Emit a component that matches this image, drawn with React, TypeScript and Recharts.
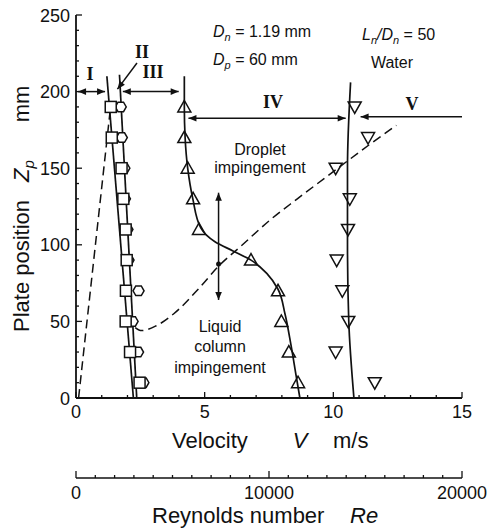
import React from 'react';
import { ComposedChart, XAxis, YAxis, Line, Scatter, ReferenceLine, ReferenceDot } from 'recharts';

// ---------- data ----------
const zLevels = [190, 170, 150, 130, 110, 90, 70, 50, 30, 10];
const squareV = [1.35, 1.39, 1.77, 1.84, 1.93, 1.97, 1.94, 1.93, 2.1, 2.47];
const hexV = [1.74, 1.78, 1.88, 1.9, 2.0, 2.04, 2.43, 2.2, 2.41, 2.62];
const triUpV = [4.21, 4.21, 4.34, 4.55, 4.78, 6.8, 7.85, 7.98, 8.27, 8.63];
const triDownV = [10.83, 11.35, 10.09, 10.64, 10.57, 10.13, 10.35, 10.58, 10.09, 11.61];

const lineSquareV = [2.23, 1.2];
const lineSquareZ = [0, 210];
const lineHexV = [2.36, 1.69];
const lineHexZ = [0, 211];

const curveUpV = [8.7, 8.55, 8.35, 8.12, 7.85, 7.43, 6.8, 6.1, 5.4, 4.85, 4.54, 4.34, 4.24, 4.21, 4.21];
const curveUpZ = [0, 15, 35, 55, 71, 81, 90, 96, 102, 111, 130, 150, 170, 190, 210];

const curveDownV = [10.8, 10.6, 10.55, 10.55, 10.67];
const curveDownZ = [0, 50, 100, 150, 206];

const dash1V = [0.1, 1.33];
const dash1Z = [0, 188];

const dash2V = [2.3, 2.55, 3.1, 3.8, 4.8, 5.54, 6.4, 7.6, 8.6, 10.1, 11.45, 12.45];
const dash2Z = [46, 44, 47, 55, 72, 86, 99, 117, 130, 149, 166, 178];

const velocityTicks = [0, 1, 2, 3, 4, 5, 6, 7, 8, 9, 10, 11, 12, 13, 14, 15];
const velocityLabels = [0, 5, 10, 15];
const plateTicks = [0, 10, 20, 30, 40, 50, 60, 70, 80, 90, 100, 110, 120, 130, 140, 150, 160, 170, 180, 190, 200, 210, 220, 230, 240, 250];
const plateLabels = [0, 50, 100, 150, 200, 250];
const reTicks = [0, 1000, 2000, 3000, 4000, 5000, 6000, 7000, 8000, 9000, 10000, 11000, 12000, 13000, 14000, 15000, 16000, 17000, 18000, 19000, 20000];
const reLabels = [0, 10000, 20000];
const reRange = [0, 20000];

// region arrows: [v1, z1, v2, z2, headAtStart, headAtEnd]
const arrowSegments: [number, number, number, number, boolean, boolean][] = [
  [0.08, 200, 1.13, 200, true, true],
  [1.82, 200, 3.99, 200, true, true],
  [2.37, 218.7, 1.61, 201.6, false, true],
  [4.37, 182.6, 10.48, 182.6, true, true],
  [15, 183.6, 11.06, 183.6, false, true],
  [5.54, 64, 5.54, 134, true, true],
];
const crossDot = { v: 5.54, z: 87.5 };

// ---------- helpers ----------
const SANS = '"Liberation Sans", Arial, Helvetica, sans-serif';
const SERIF = '"Liberation Serif", "Times New Roman", serif';
const INK = '#111';
const LW = 1.7;

const toPts = (vs: number[], zs: number[]) => vs.map((v, i) => ({ v, z: zs[i] }));
const scatterPts = (vs: number[]) => zLevels.map((z, i) => ({ v: vs[i], z }));

const SquareShape = (p: any) => (
  <rect x={p.cx - 5.5} y={p.cy - 5.5} width={11} height={11} fill="#fff" stroke={INK} strokeWidth={1.5} />
);
const HexShape = (p: any) => {
  const r = 5.5;
  const pts = [0, 60, 120, 180, 240, 300]
    .map((a) => `${p.cx + r * Math.cos((a * Math.PI) / 180)},${p.cy + r * Math.sin((a * Math.PI) / 180)}`)
    .join(' ');
  return <polygon points={pts} fill="#fff" stroke={INK} strokeWidth={1.5} />;
};
const TriUpShape = (p: any) => (
  <polygon
    points={`${p.cx},${p.cy - 6.5} ${p.cx - 6.5},${p.cy + 5} ${p.cx + 6.5},${p.cy + 5}`}
    fill="none"
    stroke={INK}
    strokeWidth={1.5}
  />
);
const TriDownShape = (p: any) => (
  <polygon
    points={`${p.cx},${p.cy + 6.5} ${p.cx - 6.5},${p.cy - 5} ${p.cx + 6.5},${p.cy - 5}`}
    fill="none"
    stroke={INK}
    strokeWidth={1.5}
  />
);

const head = (xt: number, yt: number, xf: number, yf: number) => {
  const dx = xt - xf;
  const dy = yt - yf;
  const len = Math.hypot(dx, dy) || 1;
  const ux = dx / len;
  const uy = dy / len;
  const L = 8;
  const w = 3.3;
  const bx = xt - ux * L;
  const by = yt - uy * L;
  return (
    <polygon
      points={`${xt},${yt} ${bx - uy * w},${by + ux * w} ${bx + uy * w},${by - ux * w}`}
      fill={INK}
      stroke="none"
    />
  );
};

const arrowShape = (hs: boolean, he: boolean) => (p: any) => {
  const { x1, y1, x2, y2 } = p;
  return (
    <g>
      <line x1={x1} y1={y1} x2={x2} y2={y2} stroke={INK} strokeWidth={1.5} />
      {hs && head(x1, y1, x2, y2)}
      {he && head(x2, y2, x1, y1)}
    </g>
  );
};

const BottomTick = (p: any) => {
  const v = p.payload.value;
  const major = velocityLabels.includes(v);
  return (
    <g>
      <line x1={p.x} y1={p.y} x2={p.x} y2={p.y - (major ? 6 : 3)} stroke={INK} strokeWidth={1.3} />
      {major && (
        <text x={p.x} y={p.y + 20} textAnchor="middle" fontSize={18} fontFamily={SANS} fill={INK}>
          {v}
        </text>
      )}
    </g>
  );
};
const TopTick = (p: any) => {
  const v = p.payload.value;
  const major = velocityLabels.includes(v);
  return <line x1={p.x} y1={p.y} x2={p.x} y2={p.y + (major ? 6 : 3)} stroke={INK} strokeWidth={1.3} />;
};
const LeftTick = (p: any) => {
  const v = p.payload.value;
  const major = plateLabels.includes(v);
  return (
    <g>
      <line x1={p.x} y1={p.y} x2={p.x + (major ? 6 : 3)} y2={p.y} stroke={INK} strokeWidth={1.3} />
      {major && (
        <text x={p.x - 6} y={p.y + 6.5} textAnchor="end" fontSize={18} fontFamily={SANS} fill={INK}>
          {v}
        </text>
      )}
    </g>
  );
};
const RightTick = (p: any) => {
  const v = p.payload.value;
  const major = plateLabels.includes(v);
  return <line x1={p.x} y1={p.y} x2={p.x - (major ? 6 : 3)} y2={p.y} stroke={INK} strokeWidth={1.3} />;
};
const ReTick = (p: any) => {
  const v = p.payload.value;
  const major = reLabels.includes(v);
  return (
    <g>
      <line x1={p.x} y1={p.y} x2={p.x} y2={p.y - (major ? 7 : 3)} stroke={INK} strokeWidth={1.3} />
      {major && (
        <text x={p.x} y={p.y + 21} textAnchor="middle" fontSize={18} fontFamily={SANS} fill={INK}>
          {v}
        </text>
      )}
    </g>
  );
};

const axisLine = { stroke: INK, strokeWidth: 1.8 };

// texts are placed in page pixels
const Texts = () => (
  <g fill={INK}>
    <text x={213} y={37} fontSize={16} fontFamily={SANS}>
      <tspan fontStyle="italic">D</tspan>
      <tspan fontStyle="italic" fontSize={11} dy={4}>n</tspan>
      <tspan dy={-4}> = 1.19 mm</tspan>
    </text>
    <text x={213} y={65} fontSize={16} fontFamily={SANS}>
      <tspan fontStyle="italic">D</tspan>
      <tspan fontStyle="italic" fontSize={11} dy={4}>p</tspan>
      <tspan dy={-4}> = 60 mm</tspan>
    </text>
    <text x={362} y={40} fontSize={16} fontFamily={SANS}>
      <tspan fontStyle="italic">L</tspan>
      <tspan fontStyle="italic" fontSize={11} dy={4}>n</tspan>
      <tspan fontStyle="italic" dy={-4}>/D</tspan>
      <tspan fontStyle="italic" fontSize={11} dy={4}>n</tspan>
      <tspan dy={-4}> = 50</tspan>
    </text>
    <text x={392} y={68} fontSize={16} fontFamily={SANS} textAnchor="middle">Water</text>

    <text x={90} y={80} fontSize={18} fontFamily={SERIF} fontWeight="bold" textAnchor="middle">I</text>
    <text x={142} y={58} fontSize={18} fontFamily={SERIF} fontWeight="bold" textAnchor="middle">II</text>
    <text x={153} y={78} fontSize={18} fontFamily={SERIF} fontWeight="bold" textAnchor="middle">III</text>
    <text x={273} y={108} fontSize={18} fontFamily={SERIF} fontWeight="bold" textAnchor="middle">IV</text>
    <text x={412} y={110} fontSize={18} fontFamily={SERIF} fontWeight="bold" textAnchor="middle">V</text>

    <text x={260} y={155} fontSize={16} fontFamily={SANS} textAnchor="middle">Droplet</text>
    <text x={260} y={173} fontSize={16} fontFamily={SANS} textAnchor="middle">impingement</text>
    <text x={220} y={332} fontSize={16} fontFamily={SANS} textAnchor="middle">Liquid</text>
    <text x={220} y={352} fontSize={16} fontFamily={SANS} textAnchor="middle">column</text>
    <text x={220} y={373} fontSize={16} fontFamily={SANS} textAnchor="middle">impingement</text>

    <text x={172} y={448} fontSize={22} fontFamily={SANS}>Velocity</text>
    <text x={300} y={448} fontSize={22} fontFamily={SANS} fontStyle="italic" textAnchor="middle">V</text>
    <text x={333} y={448} fontSize={22} fontFamily={SANS}>m/s</text>

    <text x={152} y={523} fontSize={22} fontFamily={SANS}>Reynolds number</text>
    <text x={350} y={523} fontSize={22} fontFamily={SANS} fontStyle="italic">Re</text>

    <text x={29} y={332} fontSize={22} fontFamily={SANS} transform="rotate(-90 29 332)">
      Plate position
    </text>
    <text x={29} y={182} fontSize={22} fontFamily={SANS} transform="rotate(-90 29 182)">
      <tspan fontStyle="italic">Z</tspan>
      <tspan fontStyle="italic" fontSize={15} dy={5}>p</tspan>
    </text>
    <text x={29} y={104} fontSize={22} fontFamily={SANS} textAnchor="middle" transform="rotate(-90 29 104)">
      mm
    </text>
  </g>
);

export default function App() {
  return (
    <div style={{ width: 498, height: 530, margin: '-8px 0 0 -8px', background: '#fff' }}>
      <ComposedChart width={498} height={530} margin={{ top: 15, right: 36, bottom: 0, left: 8 }}>
        <XAxis
          type="number"
          dataKey="v"
          domain={[0, 15]}
          allowDataOverflow
          ticks={velocityTicks}
          interval={0}
          tickSize={0}
          tickMargin={0}
          tick={(p: any) => <BottomTick {...p} />}
          axisLine={axisLine}
          height={80}
        />
        <XAxis
          xAxisId="re"
          type="number"
          dataKey="re"
          domain={[0, 20000]}
          allowDataOverflow
          ticks={reTicks}
          interval={0}
          tickSize={0}
          tickMargin={0}
          tick={(p: any) => <ReTick {...p} />}
          axisLine={{ stroke: INK, strokeWidth: 1.6 }}
          height={52}
        />
        <XAxis
          xAxisId="top"
          orientation="top"
          type="number"
          dataKey="v"
          domain={[0, 15]}
          allowDataOverflow
          ticks={velocityTicks}
          interval={0}
          tickSize={0}
          tickMargin={0}
          tick={(p: any) => <TopTick {...p} />}
          axisLine={axisLine}
          height={0}
        />
        <YAxis
          type="number"
          dataKey="z"
          domain={[0, 250]}
          allowDataOverflow
          ticks={plateTicks}
          interval={0}
          tickSize={0}
          tickMargin={0}
          tick={(p: any) => <LeftTick {...p} />}
          axisLine={axisLine}
          width={68}
        />
        <YAxis
          yAxisId="right"
          orientation="right"
          type="number"
          dataKey="z"
          domain={[0, 250]}
          allowDataOverflow
          ticks={plateTicks}
          interval={0}
          tickSize={0}
          tickMargin={0}
          tick={(p: any) => <RightTick {...p} />}
          axisLine={axisLine}
          width={0}
        />

        {/* invisible carriers so the secondary axes get their ticks */}
        <Line
          xAxisId="re"
          data={reRange.map((re) => ({ re, z: 0 }))}
          dataKey="z"
          stroke="none"
          dot={false}
          activeDot={false}
          isAnimationActive={false}
        />
        <Line
          xAxisId="top"
          yAxisId="right"
          data={toPts([0, 15], [0, 250])}
          dataKey="z"
          stroke="none"
          dot={false}
          activeDot={false}
          isAnimationActive={false}
        />

        <Line data={toPts(dash1V, dash1Z)} dataKey="z" type="linear" stroke={INK} strokeWidth={1.5} strokeDasharray="9 5" dot={false} isAnimationActive={false} />
        <Line data={toPts(dash2V, dash2Z)} dataKey="z" type="monotoneX" stroke={INK} strokeWidth={1.5} strokeDasharray="9 5" dot={false} isAnimationActive={false} />
        <Line data={toPts(lineSquareV, lineSquareZ)} dataKey="z" type="linear" stroke={INK} strokeWidth={LW} dot={false} isAnimationActive={false} />
        <Line data={toPts(lineHexV, lineHexZ)} dataKey="z" type="linear" stroke={INK} strokeWidth={LW} dot={false} isAnimationActive={false} />
        <Line data={toPts(curveUpV, curveUpZ)} dataKey="z" type="monotoneY" stroke={INK} strokeWidth={LW} dot={false} isAnimationActive={false} />
        <Line data={toPts(curveDownV, curveDownZ)} dataKey="z" type="monotoneY" stroke={INK} strokeWidth={LW} dot={false} isAnimationActive={false} />

        {arrowSegments.map((a, i) => (
          <ReferenceLine
            key={`arr${i}`}
            segment={[{ x: a[0], y: a[1] }, { x: a[2], y: a[3] }]}
            shape={arrowShape(a[4], a[5])}
            ifOverflow="visible"
          />
        ))}
        <ReferenceDot x={crossDot.v} y={crossDot.z} r={2.5} fill={INK} stroke="none" ifOverflow="visible" />

        <Scatter data={scatterPts(hexV)} shape={HexShape} isAnimationActive={false} />
        <Scatter data={scatterPts(squareV)} shape={SquareShape} isAnimationActive={false} />
        <Scatter data={scatterPts(triUpV)} shape={TriUpShape} isAnimationActive={false} />
        <Scatter data={scatterPts(triDownV)} shape={TriDownShape} isAnimationActive={false} />

        <Texts />
      </ComposedChart>
    </div>
  );
}
